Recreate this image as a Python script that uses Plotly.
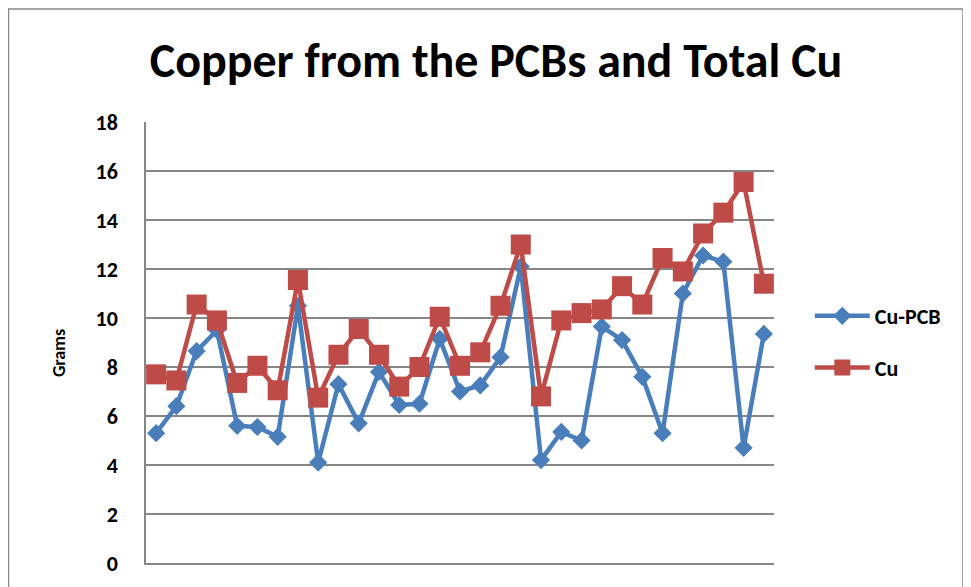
import plotly.graph_objects as go

samples = list(range(1, 32))

cu_pcb = [5.3, 6.4, 8.65, 9.5, 5.6, 5.55, 5.15, 10.5, 4.1, 7.3, 5.7, 7.8, 6.45, 6.5,
          9.15, 7.0, 7.25, 8.4, 12.1, 4.2, 5.35, 5.0, 9.65, 9.1, 7.6, 5.3, 11.0,
          12.55, 12.3, 4.7, 9.35]

cu_total = [7.7, 7.45, 10.55, 9.9, 7.35, 8.05, 7.05, 11.55, 6.75, 8.5, 9.55, 8.5,
            7.2, 8.0, 10.05, 8.05, 8.6, 10.5, 13.0, 6.8, 9.9, 10.2, 10.35, 11.3,
            10.55, 12.45, 11.9, 13.45, 14.3, 15.55, 11.4]

y_ticks = list(range(0, 19, 2))

blue = '#4A7EBB'
red = '#BE4B48'
font_name = 'Carlito, Lato, sans-serif'

fig = go.Figure()
fig.add_trace(go.Scatter(x=samples, y=cu_pcb, name='<b>Cu-PCB</b>',
                         mode='lines+markers', legendgroup='pcb',
                         line=dict(color=blue, width=4.5),
                         marker=dict(symbol='diamond', size=14, color=blue)))
fig.add_trace(go.Scatter(x=samples, y=cu_total, name='<b>Cu</b>',
                         mode='lines+markers', legendgroup='cu',
                         line=dict(color=red, width=4.5),
                         marker=dict(symbol='square', size=20, color=red)))

# outer chart frame
fig.add_shape(type='rect', xref='paper', yref='paper',
              x0=-0.219, x1=1.301, y0=-0.2, y1=1.2564,
              line=dict(color='#868686', width=1.5), layer='below')

# y axis title (sits a little below the plot centre in the original)
fig.add_annotation(text='<b>Grams</b>', xref='paper', yref='paper',
                   x=-0.1385, y=0.476, textangle=-90, showarrow=False,
                   xanchor='center', yanchor='middle', font=dict(size=18))

fig.update_layout(
    width=971, height=587,
    margin=dict(l=138, r=205, t=114, b=32),
    paper_bgcolor='white', plot_bgcolor='white',
    font=dict(family=font_name, color='black'),
    title=dict(text='<b>Copper from the PCBs and Total Cu</b>',
               x=0.5026, xanchor='center', y=0.911, yanchor='middle',
               font=dict(size=48, family=font_name)),
    xaxis=dict(range=[0.5, 31.5], showticklabels=False, showgrid=False,
               showline=True, linecolor='#868686', linewidth=1.5,
               zeroline=False, ticks=''),
    yaxis=dict(range=[0, 18], tickvals=y_ticks,
               ticktext=['<b>%d</b>' % v for v in y_ticks],
               tickfont=dict(size=22), ticks='', ticklabelstandoff=22,
               showgrid=True, gridcolor='#868686', gridwidth=1.5,
               showline=True, linecolor='#868686', linewidth=1.5,
               zeroline=False),
    legend=dict(x=1.057, y=0.501, xanchor='left', yanchor='middle',
                font=dict(size=22), itemwidth=55, tracegroupgap=20,
                bgcolor='rgba(0,0,0,0)'),
    showlegend=True,
)

fig.write_html('out.html')
